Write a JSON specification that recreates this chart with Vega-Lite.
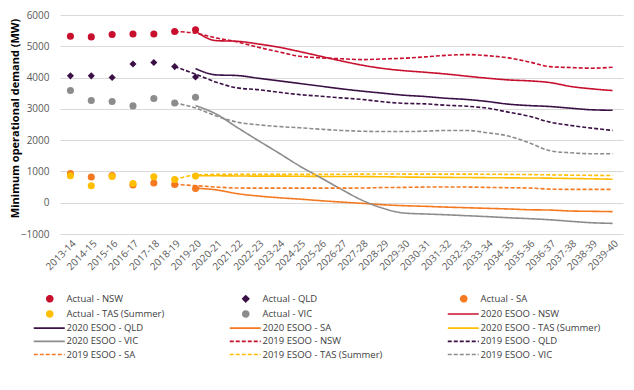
{
  "$schema": "https://vega.github.io/schema/vega-lite/v6.json",
  "width": 563,
  "height": 219,
  "autosize": "none",
  "padding": {"left": 60, "top": 15, "right": 11, "bottom": 156},
  "background": "white",
  "config": {
    "font": "Open Sans",
    "view": {"stroke": null},
    "axis": {"labelFont": "Open Sans", "titleFont": "Open Sans"}
  },
  "data": {"values": [
    {"s":"Actual - NSW","y":"2013-14","v":5320},{"s":"Actual - NSW","y":"2014-15","v":5300},{"s":"Actual - NSW","y":"2015-16","v":5375},{"s":"Actual - NSW","y":"2016-17","v":5395},{"s":"Actual - NSW","y":"2017-18","v":5395},{"s":"Actual - NSW","y":"2018-19","v":5470},{"s":"Actual - NSW","y":"2019-20","v":5530},
    {"s":"Actual - QLD","y":"2013-14","v":4055},{"s":"Actual - QLD","y":"2014-15","v":4055},{"s":"Actual - QLD","y":"2015-16","v":4000},{"s":"Actual - QLD","y":"2016-17","v":4435},{"s":"Actual - QLD","y":"2017-18","v":4480},{"s":"Actual - QLD","y":"2018-19","v":4350},{"s":"Actual - QLD","y":"2019-20","v":4020},
    {"s":"Actual - SA","y":"2013-14","v":935},{"s":"Actual - SA","y":"2014-15","v":820},{"s":"Actual - SA","y":"2015-16","v":870},{"s":"Actual - SA","y":"2016-17","v":565},{"s":"Actual - SA","y":"2017-18","v":630},{"s":"Actual - SA","y":"2018-19","v":585},{"s":"Actual - SA","y":"2019-20","v":455},
    {"s":"Actual - TAS (Summer)","y":"2013-14","v":860},{"s":"Actual - TAS (Summer)","y":"2014-15","v":545},{"s":"Actual - TAS (Summer)","y":"2015-16","v":840},{"s":"Actual - TAS (Summer)","y":"2016-17","v":615},{"s":"Actual - TAS (Summer)","y":"2017-18","v":830},{"s":"Actual - TAS (Summer)","y":"2018-19","v":740},{"s":"Actual - TAS (Summer)","y":"2019-20","v":850},
    {"s":"Actual - VIC","y":"2013-14","v":3585},{"s":"Actual - VIC","y":"2014-15","v":3265},{"s":"Actual - VIC","y":"2015-16","v":3235},{"s":"Actual - VIC","y":"2016-17","v":3095},{"s":"Actual - VIC","y":"2017-18","v":3330},{"s":"Actual - VIC","y":"2018-19","v":3190},{"s":"Actual - VIC","y":"2019-20","v":3370},

    {"s":"2020 ESOO - NSW","y":"2019-20","v":5480},{"s":"2020 ESOO - NSW","y":"2020-21","v":5180},{"s":"2020 ESOO - NSW","y":"2021-22","v":5160},{"s":"2020 ESOO - NSW","y":"2022-23","v":5075},{"s":"2020 ESOO - NSW","y":"2023-24","v":4970},{"s":"2020 ESOO - NSW","y":"2024-25","v":4830},{"s":"2020 ESOO - NSW","y":"2025-26","v":4680},{"s":"2020 ESOO - NSW","y":"2026-27","v":4530},{"s":"2020 ESOO - NSW","y":"2027-28","v":4395},{"s":"2020 ESOO - NSW","y":"2028-29","v":4290},{"s":"2020 ESOO - NSW","y":"2029-30","v":4220},{"s":"2020 ESOO - NSW","y":"2030-31","v":4170},{"s":"2020 ESOO - NSW","y":"2031-32","v":4115},{"s":"2020 ESOO - NSW","y":"2032-33","v":4045},{"s":"2020 ESOO - NSW","y":"2033-34","v":3980},{"s":"2020 ESOO - NSW","y":"2034-35","v":3925},{"s":"2020 ESOO - NSW","y":"2035-36","v":3895},{"s":"2020 ESOO - NSW","y":"2036-37","v":3840},{"s":"2020 ESOO - NSW","y":"2037-38","v":3715},{"s":"2020 ESOO - NSW","y":"2038-39","v":3640},{"s":"2020 ESOO - NSW","y":"2039-40","v":3585},

    {"s":"2020 ESOO - QLD","y":"2019-20","v":4285},{"s":"2020 ESOO - QLD","y":"2020-21","v":4085},{"s":"2020 ESOO - QLD","y":"2021-22","v":4065},{"s":"2020 ESOO - QLD","y":"2022-23","v":3980},{"s":"2020 ESOO - QLD","y":"2023-24","v":3895},{"s":"2020 ESOO - QLD","y":"2024-25","v":3810},{"s":"2020 ESOO - QLD","y":"2025-26","v":3725},{"s":"2020 ESOO - QLD","y":"2026-27","v":3640},{"s":"2020 ESOO - QLD","y":"2027-28","v":3565},{"s":"2020 ESOO - QLD","y":"2028-29","v":3500},{"s":"2020 ESOO - QLD","y":"2029-30","v":3436},{"s":"2020 ESOO - QLD","y":"2030-31","v":3395},{"s":"2020 ESOO - QLD","y":"2031-32","v":3340},{"s":"2020 ESOO - QLD","y":"2032-33","v":3300},{"s":"2020 ESOO - QLD","y":"2033-34","v":3235},{"s":"2020 ESOO - QLD","y":"2034-35","v":3150},{"s":"2020 ESOO - QLD","y":"2035-36","v":3105},{"s":"2020 ESOO - QLD","y":"2036-37","v":3075},{"s":"2020 ESOO - QLD","y":"2037-38","v":3020},{"s":"2020 ESOO - QLD","y":"2038-39","v":2970},{"s":"2020 ESOO - QLD","y":"2039-40","v":2955},

    {"s":"2020 ESOO - SA","y":"2019-20","v":465},{"s":"2020 ESOO - SA","y":"2020-21","v":410},{"s":"2020 ESOO - SA","y":"2021-22","v":290},{"s":"2020 ESOO - SA","y":"2022-23","v":215},{"s":"2020 ESOO - SA","y":"2023-24","v":160},{"s":"2020 ESOO - SA","y":"2024-25","v":115},{"s":"2020 ESOO - SA","y":"2025-26","v":65},{"s":"2020 ESOO - SA","y":"2026-27","v":20},{"s":"2020 ESOO - SA","y":"2027-28","v":-20},{"s":"2020 ESOO - SA","y":"2028-29","v":-65},{"s":"2020 ESOO - SA","y":"2029-30","v":-95},{"s":"2020 ESOO - SA","y":"2030-31","v":-115},{"s":"2020 ESOO - SA","y":"2031-32","v":-140},{"s":"2020 ESOO - SA","y":"2032-33","v":-160},{"s":"2020 ESOO - SA","y":"2033-34","v":-180},{"s":"2020 ESOO - SA","y":"2034-35","v":-200},{"s":"2020 ESOO - SA","y":"2035-36","v":-225},{"s":"2020 ESOO - SA","y":"2036-37","v":-235},{"s":"2020 ESOO - SA","y":"2037-38","v":-265},{"s":"2020 ESOO - SA","y":"2038-39","v":-275},{"s":"2020 ESOO - SA","y":"2039-40","v":-285},

    {"s":"2020 ESOO - TAS (Summer)","y":"2019-20","v":860},{"s":"2020 ESOO - TAS (Summer)","y":"2020-21","v":860},{"s":"2020 ESOO - TAS (Summer)","y":"2021-22","v":855},{"s":"2020 ESOO - TAS (Summer)","y":"2022-23","v":850},{"s":"2020 ESOO - TAS (Summer)","y":"2023-24","v":850},{"s":"2020 ESOO - TAS (Summer)","y":"2024-25","v":845},{"s":"2020 ESOO - TAS (Summer)","y":"2025-26","v":840},{"s":"2020 ESOO - TAS (Summer)","y":"2026-27","v":840},{"s":"2020 ESOO - TAS (Summer)","y":"2027-28","v":835},{"s":"2020 ESOO - TAS (Summer)","y":"2028-29","v":830},{"s":"2020 ESOO - TAS (Summer)","y":"2029-30","v":820},{"s":"2020 ESOO - TAS (Summer)","y":"2030-31","v":815},{"s":"2020 ESOO - TAS (Summer)","y":"2031-32","v":810},{"s":"2020 ESOO - TAS (Summer)","y":"2032-33","v":805},{"s":"2020 ESOO - TAS (Summer)","y":"2033-34","v":800},{"s":"2020 ESOO - TAS (Summer)","y":"2034-35","v":795},{"s":"2020 ESOO - TAS (Summer)","y":"2035-36","v":790},{"s":"2020 ESOO - TAS (Summer)","y":"2036-37","v":785},{"s":"2020 ESOO - TAS (Summer)","y":"2037-38","v":775},{"s":"2020 ESOO - TAS (Summer)","y":"2038-39","v":765},{"s":"2020 ESOO - TAS (Summer)","y":"2039-40","v":750},

    {"s":"2020 ESOO - VIC","y":"2019-20","v":3105},{"s":"2020 ESOO - VIC","y":"2020-21","v":2830},{"s":"2020 ESOO - VIC","y":"2021-22","v":2405},{"s":"2020 ESOO - VIC","y":"2022-23","v":1990},{"s":"2020 ESOO - VIC","y":"2023-24","v":1585},{"s":"2020 ESOO - VIC","y":"2024-25","v":1170},{"s":"2020 ESOO - VIC","y":"2025-26","v":800},{"s":"2020 ESOO - VIC","y":"2026-27","v":425},{"s":"2020 ESOO - VIC","y":"2027-28","v":75},{"s":"2020 ESOO - VIC","y":"2028-29","v":-180},{"s":"2020 ESOO - VIC","y":"2029-30","v":-330},{"s":"2020 ESOO - VIC","y":"2030-31","v":-360},{"s":"2020 ESOO - VIC","y":"2031-32","v":-385},{"s":"2020 ESOO - VIC","y":"2032-33","v":-415},{"s":"2020 ESOO - VIC","y":"2033-34","v":-445},{"s":"2020 ESOO - VIC","y":"2034-35","v":-480},{"s":"2020 ESOO - VIC","y":"2035-36","v":-510},{"s":"2020 ESOO - VIC","y":"2036-37","v":-545},{"s":"2020 ESOO - VIC","y":"2037-38","v":-595},{"s":"2020 ESOO - VIC","y":"2038-39","v":-640},{"s":"2020 ESOO - VIC","y":"2039-40","v":-660},

    {"s":"2019 ESOO - NSW","y":"2018-19","v":5470},{"s":"2019 ESOO - NSW","y":"2019-20","v":5420},{"s":"2019 ESOO - NSW","y":"2020-21","v":5265},{"s":"2019 ESOO - NSW","y":"2021-22","v":5140},{"s":"2019 ESOO - NSW","y":"2022-23","v":4970},{"s":"2019 ESOO - NSW","y":"2023-24","v":4820},{"s":"2019 ESOO - NSW","y":"2024-25","v":4680},{"s":"2019 ESOO - NSW","y":"2025-26","v":4630},{"s":"2019 ESOO - NSW","y":"2026-27","v":4600},{"s":"2019 ESOO - NSW","y":"2027-28","v":4575},{"s":"2019 ESOO - NSW","y":"2028-29","v":4595},{"s":"2019 ESOO - NSW","y":"2029-30","v":4620},{"s":"2019 ESOO - NSW","y":"2030-31","v":4660},{"s":"2019 ESOO - NSW","y":"2031-32","v":4710},{"s":"2019 ESOO - NSW","y":"2032-33","v":4735},{"s":"2019 ESOO - NSW","y":"2033-34","v":4700},{"s":"2019 ESOO - NSW","y":"2034-35","v":4630},{"s":"2019 ESOO - NSW","y":"2035-36","v":4500},{"s":"2019 ESOO - NSW","y":"2036-37","v":4350},{"s":"2019 ESOO - NSW","y":"2037-38","v":4320},{"s":"2019 ESOO - NSW","y":"2038-39","v":4300},{"s":"2019 ESOO - NSW","y":"2039-40","v":4330},

    {"s":"2019 ESOO - QLD","y":"2018-19","v":4350},{"s":"2019 ESOO - QLD","y":"2019-20","v":4110},{"s":"2019 ESOO - QLD","y":"2020-21","v":3850},{"s":"2019 ESOO - QLD","y":"2021-22","v":3670},{"s":"2019 ESOO - QLD","y":"2022-23","v":3615},{"s":"2019 ESOO - QLD","y":"2023-24","v":3530},{"s":"2019 ESOO - QLD","y":"2024-25","v":3455},{"s":"2019 ESOO - QLD","y":"2025-26","v":3405},{"s":"2019 ESOO - QLD","y":"2026-27","v":3350},{"s":"2019 ESOO - QLD","y":"2027-28","v":3300},{"s":"2019 ESOO - QLD","y":"2028-29","v":3225},{"s":"2019 ESOO - QLD","y":"2029-30","v":3175},{"s":"2019 ESOO - QLD","y":"2030-31","v":3160},{"s":"2019 ESOO - QLD","y":"2031-32","v":3115},{"s":"2019 ESOO - QLD","y":"2032-33","v":3085},{"s":"2019 ESOO - QLD","y":"2033-34","v":3020},{"s":"2019 ESOO - QLD","y":"2034-35","v":2895},{"s":"2019 ESOO - QLD","y":"2035-36","v":2765},{"s":"2019 ESOO - QLD","y":"2036-37","v":2575},{"s":"2019 ESOO - QLD","y":"2037-38","v":2470},{"s":"2019 ESOO - QLD","y":"2038-39","v":2385},{"s":"2019 ESOO - QLD","y":"2039-40","v":2310},

    {"s":"2019 ESOO - SA","y":"2018-19","v":585},{"s":"2019 ESOO - SA","y":"2019-20","v":545},{"s":"2019 ESOO - SA","y":"2020-21","v":500},{"s":"2019 ESOO - SA","y":"2021-22","v":470},{"s":"2019 ESOO - SA","y":"2022-23","v":465},{"s":"2019 ESOO - SA","y":"2023-24","v":465},{"s":"2019 ESOO - SA","y":"2024-25","v":465},{"s":"2019 ESOO - SA","y":"2025-26","v":465},{"s":"2019 ESOO - SA","y":"2026-27","v":465},{"s":"2019 ESOO - SA","y":"2027-28","v":470},{"s":"2019 ESOO - SA","y":"2028-29","v":485},{"s":"2019 ESOO - SA","y":"2029-30","v":490},{"s":"2019 ESOO - SA","y":"2030-31","v":500},{"s":"2019 ESOO - SA","y":"2031-32","v":500},{"s":"2019 ESOO - SA","y":"2032-33","v":500},{"s":"2019 ESOO - SA","y":"2033-34","v":490},{"s":"2019 ESOO - SA","y":"2034-35","v":480},{"s":"2019 ESOO - SA","y":"2035-36","v":470},{"s":"2019 ESOO - SA","y":"2036-37","v":435},{"s":"2019 ESOO - SA","y":"2037-38","v":425},{"s":"2019 ESOO - SA","y":"2038-39","v":425},{"s":"2019 ESOO - SA","y":"2039-40","v":425},

    {"s":"2019 ESOO - TAS (Summer)","y":"2018-19","v":740},{"s":"2019 ESOO - TAS (Summer)","y":"2019-20","v":880},{"s":"2019 ESOO - TAS (Summer)","y":"2020-21","v":905},{"s":"2019 ESOO - TAS (Summer)","y":"2021-22","v":905},{"s":"2019 ESOO - TAS (Summer)","y":"2022-23","v":905},{"s":"2019 ESOO - TAS (Summer)","y":"2023-24","v":905},{"s":"2019 ESOO - TAS (Summer)","y":"2024-25","v":905},{"s":"2019 ESOO - TAS (Summer)","y":"2025-26","v":905},{"s":"2019 ESOO - TAS (Summer)","y":"2026-27","v":910},{"s":"2019 ESOO - TAS (Summer)","y":"2027-28","v":915},{"s":"2019 ESOO - TAS (Summer)","y":"2028-29","v":920},{"s":"2019 ESOO - TAS (Summer)","y":"2029-30","v":915},{"s":"2019 ESOO - TAS (Summer)","y":"2030-31","v":915},{"s":"2019 ESOO - TAS (Summer)","y":"2031-32","v":915},{"s":"2019 ESOO - TAS (Summer)","y":"2032-33","v":915},{"s":"2019 ESOO - TAS (Summer)","y":"2033-34","v":910},{"s":"2019 ESOO - TAS (Summer)","y":"2034-35","v":905},{"s":"2019 ESOO - TAS (Summer)","y":"2035-36","v":900},{"s":"2019 ESOO - TAS (Summer)","y":"2036-37","v":890},{"s":"2019 ESOO - TAS (Summer)","y":"2037-38","v":880},{"s":"2019 ESOO - TAS (Summer)","y":"2038-39","v":875},{"s":"2019 ESOO - TAS (Summer)","y":"2039-40","v":870},

    {"s":"2019 ESOO - VIC","y":"2018-19","v":3190},{"s":"2019 ESOO - VIC","y":"2019-20","v":3030},{"s":"2019 ESOO - VIC","y":"2020-21","v":2770},{"s":"2019 ESOO - VIC","y":"2021-22","v":2575},{"s":"2019 ESOO - VIC","y":"2022-23","v":2490},{"s":"2019 ESOO - VIC","y":"2023-24","v":2435},{"s":"2019 ESOO - VIC","y":"2024-25","v":2395},{"s":"2019 ESOO - VIC","y":"2025-26","v":2350},{"s":"2019 ESOO - VIC","y":"2026-27","v":2310},{"s":"2019 ESOO - VIC","y":"2027-28","v":2285},{"s":"2019 ESOO - VIC","y":"2028-29","v":2275},{"s":"2019 ESOO - VIC","y":"2029-30","v":2275},{"s":"2019 ESOO - VIC","y":"2030-31","v":2285},{"s":"2019 ESOO - VIC","y":"2031-32","v":2310},{"s":"2019 ESOO - VIC","y":"2032-33","v":2310},{"s":"2019 ESOO - VIC","y":"2033-34","v":2235},{"s":"2019 ESOO - VIC","y":"2034-35","v":2130},{"s":"2019 ESOO - VIC","y":"2035-36","v":1915},{"s":"2019 ESOO - VIC","y":"2036-37","v":1660},{"s":"2019 ESOO - VIC","y":"2037-38","v":1595},{"s":"2019 ESOO - VIC","y":"2038-39","v":1565},{"s":"2019 ESOO - VIC","y":"2039-40","v":1565}
  ]},
  "encoding": {
    "x": {
      "field": "y", "type": "ordinal",
      "scale": {"domain": ["2013-14","2014-15","2015-16","2016-17","2017-18","2018-19","2019-20","2020-21","2021-22","2022-23","2023-24","2024-25","2025-26","2026-27","2027-28","2028-29","2029-30","2030-31","2031-32","2032-33","2033-34","2034-35","2035-36","2036-37","2037-38","2038-39","2039-40"], "padding": 0.5},
      "axis": {"title": null, "labelAngle": -45, "labelFontSize": 10, "labelColor": "#595959", "ticks": false, "domain": false, "grid": false, "labelPadding": 4}
    },
    "y": {
      "field": "v", "type": "quantitative",
      "scale": {"domain": [-1000, 6000], "nice": false, "zero": false},
      "axis": {"values": [-1000,0,1000,2000,3000,4000,5000,6000], "format": "d", "title": "Minimum operational demand (MW)", "titleFontSize": 11, "titleFontWeight": "bold", "titleColor": "#000000", "titleX": -40, "titleY": 103, "labelFontSize": 10, "labelColor": "#595959", "ticks": false, "domain": false, "gridColor": "#d9d9d9", "gridWidth": 1, "labelPadding": 11}
    },
    "color": {
      "field": "s", "type": "nominal",
      "scale": {
        "domain": ["Actual - NSW","Actual - QLD","Actual - SA","Actual - TAS (Summer)","Actual - VIC","2020 ESOO - NSW","2020 ESOO - QLD","2020 ESOO - SA","2020 ESOO - TAS (Summer)","2020 ESOO - VIC","2019 ESOO - NSW","2019 ESOO - QLD","2019 ESOO - SA","2019 ESOO - TAS (Summer)","2019 ESOO - VIC"],
        "range": ["#C8102E","#3B1046","#F47920","#FFBE00","#8C8C8C","#C8102E","#3B1046","#F47920","#FFBE00","#8C8C8C","#C8102E","#3B1046","#F47920","#FFBE00","#8C8C8C"]
      },
      "legend": {
        "title": null,
        "orient": "none",
        "legendX": -15,
        "legendY": 279,
        "direction": "horizontal",
        "columns": 3,
        "columnPadding": 61,
        "rowPadding": 2.2,
        "symbolSize": 36,
        "labelOffset": 12,
        "labelFontSize": 9.5,
        "labelFont": "Open Sans",
        "labelColor": "#404040",
        "labelLimit": 200,
        "encode": {
          "symbols": {
            "update": {
              "fill": {"scale": "color", "field": "value"},
              "stroke": {"scale": "color", "field": "value"},
              "strokeWidth": {"value": 1.6},
              "strokeDash": {"scale": "strokeDash", "field": "value"},
              "shape": {"scale": "shape", "field": "value"},
              "size": {"value": 36},
              "opacity": {"value": 1}
            }
          }
        }
      }
    },
    "strokeDash": {
      "field": "s", "type": "nominal", "legend": null,
      "scale": {
        "domain": ["Actual - NSW","Actual - QLD","Actual - SA","Actual - TAS (Summer)","Actual - VIC","2020 ESOO - NSW","2020 ESOO - QLD","2020 ESOO - SA","2020 ESOO - TAS (Summer)","2020 ESOO - VIC","2019 ESOO - NSW","2019 ESOO - QLD","2019 ESOO - SA","2019 ESOO - TAS (Summer)","2019 ESOO - VIC"],
        "range": [[1,0],[1,0],[1,0],[1,0],[1,0],[1,0],[1,0],[1,0],[1,0],[1,0],[4,2],[4,2],[4,2],[4,2],[4,2]]
      }
    }
  },
  "layer": [
    {
      "transform": [{"filter": "indexof(datum.s,'Actual')!==0"}],
      "mark": {"type": "line", "strokeWidth": 1.6, "interpolate": "monotone"},
      "encoding": {}
    },
    {
      "transform": [{"filter": "indexof(datum.s,'Actual')===0"}],
      "mark": {"type": "point", "filled": true, "size": 50, "opacity": 1, "strokeWidth": 0},
      "encoding": {
        "shape": {
          "field": "s", "type": "nominal", "legend": null,
          "scale": {
            "domain": ["Actual - NSW","Actual - QLD","Actual - SA","Actual - TAS (Summer)","Actual - VIC","2020 ESOO - NSW","2020 ESOO - QLD","2020 ESOO - SA","2020 ESOO - TAS (Summer)","2020 ESOO - VIC","2019 ESOO - NSW","2019 ESOO - QLD","2019 ESOO - SA","2019 ESOO - TAS (Summer)","2019 ESOO - VIC"],
            "range": ["circle","diamond","circle","circle","circle","M-5.33,0H5","M-5.33,0H5","M-5.33,0H5","M-5.33,0H5","M-5.33,0H5","M-5.33,0H5","M-5.33,0H5","M-5.33,0H5","M-5.33,0H5","M-5.33,0H5"]
          }
        }
      }
    }
  ]
}
